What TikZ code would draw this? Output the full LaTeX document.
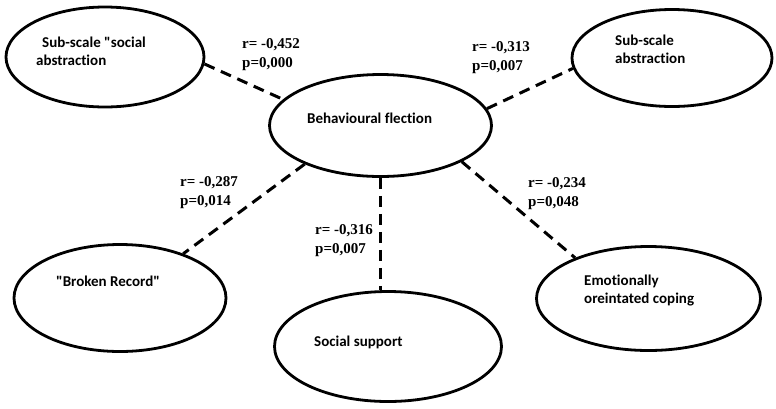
\documentclass[tikz,border=0pt]{standalone}
\usepackage{fontspec}
\setmainfont{Liberation Serif}
\newfontfamily\calib[Ligatures={NoCommon}]{Carlito}
\usetikzlibrary{shapes.geometric}
\newcommand{\twolines}[3]{\vtop{\baselineskip=#3\lineskiplimit=-10pt\hbox{#1}\hbox{#2}}}
\tikzset{
  oval/.style={ellipse, draw, line width=2.8pt, inner sep=0pt},
  ntext/.style={anchor=base west, inner sep=0pt, font=\calib\bfseries\fontsize{15}{18}\selectfont},
  stat/.style={anchor=base west, inner sep=0pt, font=\bfseries\fontsize{15}{19}\selectfont},
  link/.style={line width=3pt, dash pattern=on 11pt off 7pt},
}
\begin{document}
\begin{tikzpicture}[x=1pt,y=-1pt]
\useasboundingbox (0,0) rectangle (776,408);
% ellipses
\node[oval, minimum width=198pt, minimum height=100pt] (e1) at (105,57) {};
\node[oval, minimum width=200pt, minimum height=97pt] (e2) at (672,58) {};
\node[oval, minimum width=222pt, minimum height=102pt] (c) at (380.5,125.5) {};
\node[oval, minimum width=212pt, minimum height=107pt] (br) at (120,298) {};
\node[oval, minimum width=227pt, minimum height=110pt] (ss) at (388,346.5) {};
\node[oval, minimum width=224pt, minimum height=104pt] (em) at (648.5,298.5) {};
% node texts
\node[ntext] (t1) at (36,47) {\twolines{\kern6pt Sub-scale "social}{abstraction}{18.5pt}};
\node[ntext] (t2) at (615,45) {\twolines{Sub-scale}{abstraction}{18pt}};
\node[ntext] (tc) at (307,123) {Behavioural flection};
\node[ntext] (tb) at (56,286) {"Broken Record"};
\node[ntext] (ts) at (314,346) {Social support};
\node[ntext] (te) at (584,285) {\twolines{Emotionally}{oreintated coping}{18pt}};
% connectors
\draw[link] (e1.-4.5) -- (c.165.5);
\draw[link] (c.9) -- (e2.-174.4);
\draw[link] (c.207.5) -- (br.35.9);
\draw[link] (c.south) -- (c.south |- ss.north);
\draw[link] (c.-24.6) -- (em.151.3);
% statistics
\node[stat] (s1) at (242,48) {\twolines{r= -0,452}{p=0,000}{19pt}};
\node[stat] (s2) at (472,51) {\twolines{r= -0,313}{p=0,007}{19pt}};
\node[stat] (s3) at (180,186) {\twolines{r= -0,287}{p=0,014}{19pt}};
\node[stat] (s4) at (315,234) {\twolines{r= -0,316}{p=0,007}{19pt}};
\node[stat] (s5) at (528,187) {\twolines{r= -0,234}{p=0,048}{19pt}};
\end{tikzpicture}
\end{document}
